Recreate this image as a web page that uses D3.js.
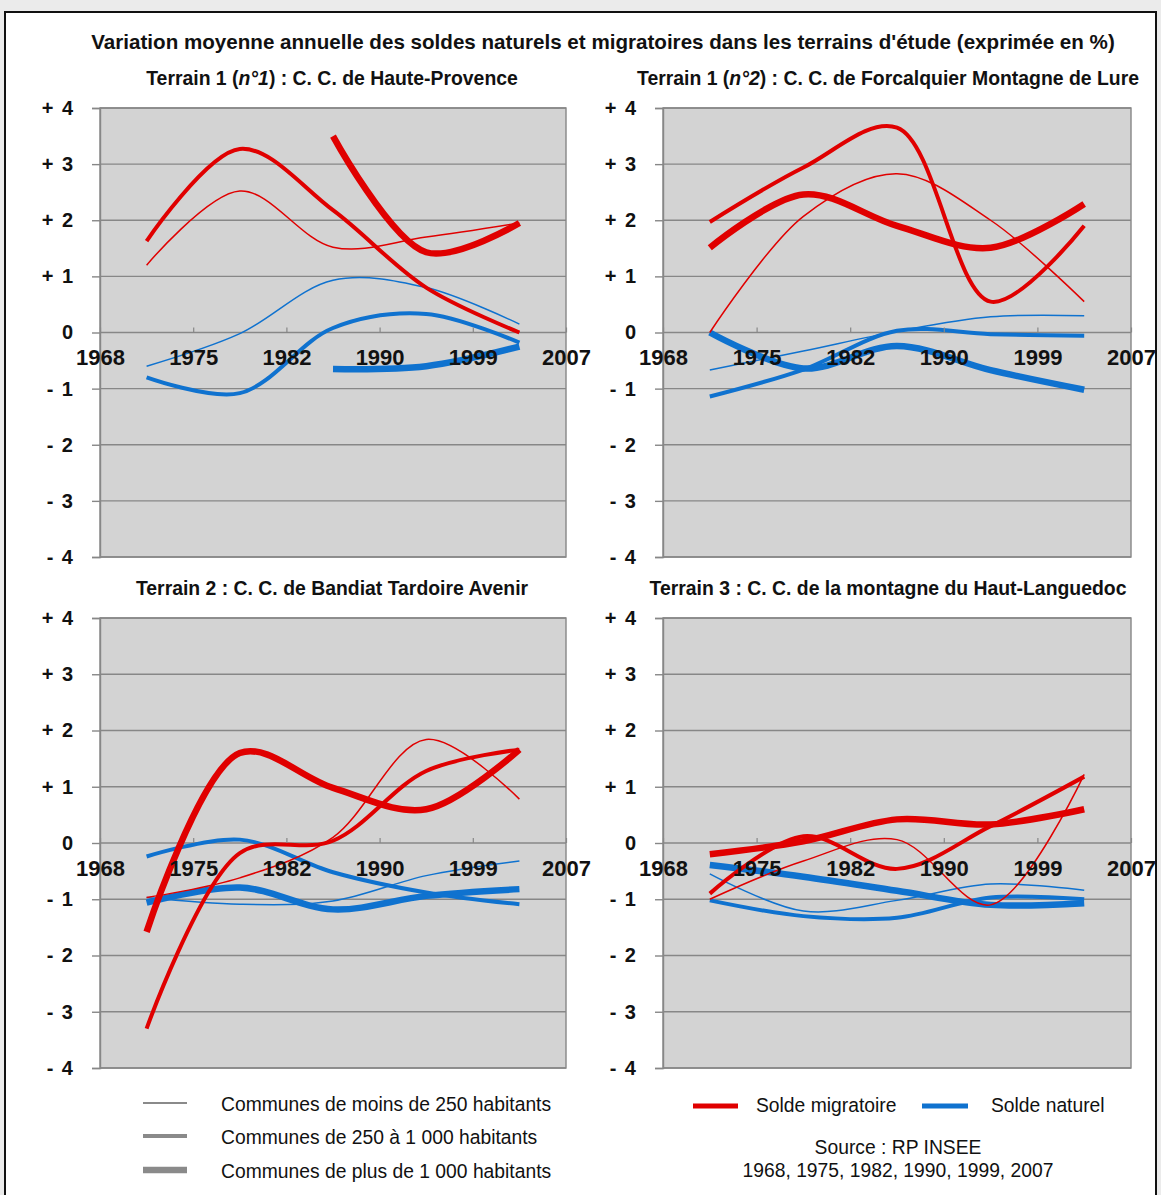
<!DOCTYPE html>
<html><head><meta charset="utf-8">
<script src="https://cdn.jsdelivr.net/npm/d3@7"></script>
<style>
body{margin:0;background:#ebebeb;}
svg{display:block;font-family:"Liberation Sans",Arial,Helvetica,sans-serif;}
</style>
</head><body>
<svg id="chart" width="1161" height="1195"></svg>
<script>
// ---------- DATA ----------
const years = ["1968", "1975", "1982", "1990", "1999", "2007"];
const periods = ["1968-1975", "1975-1982", "1982-1990", "1990-1999", "1999-2007"];
const yTicks = [4, 3, 2, 1, 0, -1, -2, -3, -4];
const yTickLabels = ["+ 4", "+ 3", "+ 2", "+ 1", "0", "- 1", "- 2", "- 3", "- 4"];

const mainTitle = "Variation moyenne annuelle des soldes naturels et migratoires dans les terrains d'étude (exprimée en %)";
const panelTitle1 = [["Terrain 1 (", false], ["n°1", true], [") : C. C. de Haute-Provence", false]];
const panelTitle2 = [["Terrain 1 (", false], ["n°2", true], [") : C. C. de Forcalquier Montagne de Lure", false]];
const panelTitle3 = [["Terrain 2 : C. C. de Bandiat Tardoire Avenir", false]];
const panelTitle4 = [["Terrain 3 : C. C. de la montagne du Haut-Languedoc", false]];

const sizeLabels = ["Communes de moins de 250 habitants", "Communes de 250 à 1 000 habitants", "Communes de plus de 1 000 habitants"];
const seriesLabels = ["Solde migratoire", "Solde naturel"];
const sourceLines = ["Source : RP INSEE", "1968, 1975, 1982, 1990, 1999, 2007"];

// Terrain 1 (n°1) : Haute-Provence
const p1MigLt250   = [1.2, 2.52, 1.52, 1.7, 1.95];
const p1Mig250to1k = [1.63, 3.27, 2.18, 0.8, 0.0];
const p1MigGt1k    = [null, null, 3.5, 1.43, 1.95];
const p1NatLt250   = [-0.6, -0.02, 0.93, 0.8, 0.15];
const p1Nat250to1k = [-0.8, -1.08, 0.08, 0.33, -0.18];
const p1NatGt1k    = [null, null, -0.65, -0.6, -0.25];

// Terrain 1 (n°2) : Forcalquier Montagne de Lure
const p2MigLt250   = [0.0, 2.07, 2.83, 2.0, 0.55];
const p2Mig250to1k = [1.97, 2.94, 3.65, 0.55, 1.9];
const p2MigGt1k    = [1.51, 2.46, 1.9, 1.51, 2.29];
const p2NatLt250   = [-0.67, -0.33, 0.02, 0.28, 0.3];
const p2Nat250to1k = [-1.14, -0.66, 0.03, -0.03, -0.06];
const p2NatGt1k    = [0.0, -0.64, -0.24, -0.67, -1.02];

// Terrain 2 : Bandiat Tardoire Avenir
const p3MigLt250   = [-0.97, -0.62, 0.1, 1.84, 0.78];
const p3Mig250to1k = [-3.3, -0.18, 0.04, 1.28, 1.66];
const p3MigGt1k    = [-1.58, 1.6, 0.98, 0.6, 1.66];
const p3NatLt250   = [-0.97, -1.09, -1.03, -0.58, -0.32];
const p3Nat250to1k = [-0.24, 0.06, -0.52, -0.88, -1.09];
const p3NatGt1k    = [-1.06, -0.79, -1.18, -0.94, -0.82];

// Terrain 3 : montagne du Haut-Languedoc
const p4MigLt250   = [-1.0, -0.32, 0.06, -1.1, 1.22];
const p4Mig250to1k = [-0.9, 0.12, -0.46, 0.3, 1.18];
const p4MigGt1k    = [-0.2, 0.03, 0.42, 0.33, 0.6];
const p4NatLt250   = [-0.55, -1.21, -1.02, -0.73, -0.84];
const p4Nat250to1k = [-1.02, -1.3, -1.33, -0.97, -1.0];
const p4NatGt1k    = [-0.39, -0.6, -0.85, -1.1, -1.07];

// ---------- STYLE ----------
const RED = "#e00000", BLUE = "#0f72cf";
const W_THIN = 1.5, W_MED = 4, W_THICK = 6.5;
const GRID = "#878787", PLOTBG = "#d3d3d3";

const svg = d3.select("#chart");
svg.append("rect").attr("width", 1161).attr("height", 1195).attr("fill", "#ebebeb");
svg.append("rect").attr("x", 5).attr("y", 12).attr("width", 1151).attr("height", 1200)
  .attr("fill", "#ffffff").attr("stroke", "#111").attr("stroke-width", 2);

svg.append("text").attr("x", 603).attr("y", 49).attr("text-anchor", "middle")
  .attr("font-weight", "bold").attr("font-size", 20.6).attr("fill", "#111").text(mainTitle);

function makeSeries(mLt, mMid, mGt, nLt, nMid, nGt) {
  return [
    {v: nGt, c: BLUE, w: W_THICK}, {v: nMid, c: BLUE, w: W_MED}, {v: nLt, c: BLUE, w: W_THIN},
    {v: mGt, c: RED, w: W_THICK}, {v: mMid, c: RED, w: W_MED}, {v: mLt, c: RED, w: W_THIN}
  ];
}

const panels = [
  {title: panelTitle1, x0: 100, x1: 566, y0: 108, y1: 557, ty: 85, tx: 332,
   series: makeSeries(p1MigLt250, p1Mig250to1k, p1MigGt1k, p1NatLt250, p1Nat250to1k, p1NatGt1k)},
  {title: panelTitle2, x0: 663, x1: 1131, y0: 108, y1: 557, ty: 85, tx: 888,
   series: makeSeries(p2MigLt250, p2Mig250to1k, p2MigGt1k, p2NatLt250, p2Nat250to1k, p2NatGt1k)},
  {title: panelTitle3, x0: 100, x1: 566, y0: 618, y1: 1068, ty: 595, tx: 332,
   series: makeSeries(p3MigLt250, p3Mig250to1k, p3MigGt1k, p3NatLt250, p3Nat250to1k, p3NatGt1k)},
  {title: panelTitle4, x0: 663, x1: 1131, y0: 618, y1: 1068, ty: 595, tx: 888,
   series: makeSeries(p4MigLt250, p4Mig250to1k, p4MigGt1k, p4NatLt250, p4Nat250to1k, p4NatGt1k)}
];

panels.forEach(p => {
  const x = d3.scaleBand().domain(periods).range([p.x0, p.x1]).padding(0);
  const xYears = d3.scalePoint().domain(years).range([p.x0, p.x1]);
  const y = d3.scaleLinear().domain([-4, 4]).range([p.y1, p.y0]);
  const g = svg.append("g");

  // title
  const t = g.append("text").attr("x", p.tx).attr("y", p.ty)
    .attr("text-anchor", "middle").attr("font-weight", "bold").attr("font-size", 19.4).attr("fill", "#111");
  p.title.forEach(([s, it]) => t.append("tspan").attr("font-style", it ? "italic" : "normal").text(s));

  // plot area
  g.append("rect").attr("x", p.x0).attr("y", p.y0).attr("width", p.x1 - p.x0).attr("height", p.y1 - p.y0)
    .attr("fill", PLOTBG);
  g.selectAll("line.grid").data(yTicks).join("line").attr("class", "grid")
    .attr("x1", p.x0).attr("x2", p.x1).attr("y1", d => y(d)).attr("y2", d => y(d))
    .attr("stroke", GRID).attr("stroke-width", 1.4);
  g.append("rect").attr("x", p.x0).attr("y", p.y0).attr("width", p.x1 - p.x0).attr("height", p.y1 - p.y0)
    .attr("fill", "none").attr("stroke", GRID).attr("stroke-width", 1.4);

  // y axis
  const ya = g.append("g").attr("transform", `translate(${p.x0},0)`)
    .call(d3.axisLeft(y).tickValues(yTicks).tickFormat(d => yTickLabels[yTicks.indexOf(d)])
      .tickSize(8).tickPadding(19));
  ya.select(".domain").attr("stroke", GRID).attr("stroke-width", 1.4);
  ya.selectAll(".tick line").attr("stroke", GRID).attr("stroke-width", 1.4);
  ya.selectAll(".tick text").attr("font-size", 20).attr("font-weight", "bold").attr("fill", "#111")
    .attr("font-family", "Liberation Sans, Arial, sans-serif").attr("word-spacing", 3);

  // lines
  const line = d3.line()
    .defined(d => d.v != null)
    .x(d => x(d.p) + x.bandwidth() / 2)
    .y(d => y(d.v))
    .curve(d3.curveCatmullRom.alpha(0.5));
  p.series.forEach(s => {
    g.append("path").datum(periods.map((per, i) => ({p: per, v: s.v[i]})))
      .attr("d", line).attr("fill", "none").attr("stroke", s.c).attr("stroke-width", s.w)
      .attr("stroke-linecap", "butt").attr("stroke-linejoin", "round");
  });

  // x axis on the zero line
  const xa = g.append("g").attr("transform", `translate(0,${y(0)})`)
    .call(d3.axisBottom(xYears).tickSizeInner(-5).tickSizeOuter(0).tickPadding(17));
  xa.select(".domain").remove();
  xa.selectAll(".tick line").attr("stroke", GRID).attr("stroke-width", 1.2);
  xa.selectAll(".tick text").attr("font-size", 22).attr("font-weight", "bold").attr("fill", "#111")
    .attr("font-family", "Liberation Sans, Arial, sans-serif");
});

// ---------- LEGEND ----------
const lg = svg.append("g");
const keyW = [2, 4, 6.5];
const keyY = [1103, 1136, 1170];
sizeLabels.forEach((lab, i) => {
  lg.append("line").attr("x1", 143).attr("x2", 187).attr("y1", keyY[i]).attr("y2", keyY[i])
    .attr("stroke", "#8a8a8a").attr("stroke-width", keyW[i]);
  lg.append("text").attr("x", 221).attr("y", keyY[i] + 8).attr("font-size", 19.3).attr("fill", "#111").text(lab);
});
const sKeys = [{x1: 693, x2: 738, tx: 756, c: RED}, {x1: 922, x2: 968, tx: 991, c: BLUE}];
seriesLabels.forEach((lab, i) => {
  lg.append("line").attr("x1", sKeys[i].x1).attr("x2", sKeys[i].x2).attr("y1", 1106).attr("y2", 1106)
    .attr("stroke", sKeys[i].c).attr("stroke-width", 5);
  lg.append("text").attr("x", sKeys[i].tx).attr("y", 1112).attr("font-size", 19.3).attr("fill", "#111").text(lab);
});
sourceLines.forEach((s, i) => {
  lg.append("text").attr("x", 898).attr("y", 1154 + i * 23).attr("text-anchor", "middle")
    .attr("font-size", 19.3).attr("fill", "#111").text(s);
});
</script>
</body></html>
